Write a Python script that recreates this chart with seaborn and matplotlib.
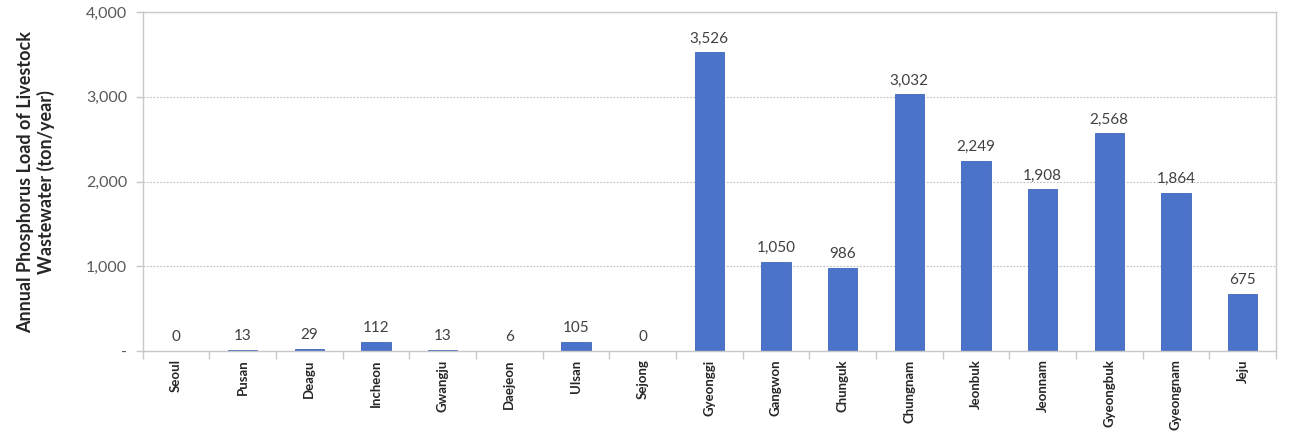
import matplotlib
matplotlib.use("Agg")
import matplotlib.pyplot as plt
import seaborn as sns
import pandas as pd
import numpy as np
from matplotlib.ticker import FuncFormatter, FixedLocator

regions = ["Seoul", "Pusan", "Deagu", "Incheon", "Gwangju", "Daejeon", "Ulsan", "Sejong",
           "Gyeonggi", "Gangwon", "Chunguk", "Chungnam", "Jeonbuk", "Jeonnam",
           "Gyeongbuk", "Gyeongnam", "Jeju"]
loads = [0, 13, 29, 112, 13, 6, 105, 0, 3526, 1050, 986, 3032, 2249, 1908, 2568, 1864, 675]
yticks = [0, 1000, 2000, 3000, 4000]

df = pd.DataFrame({"region": regions, "load": loads})

sns.set_style("white")
plt.rcParams["font.family"] = ["Lato", "DejaVu Sans"]

fig = plt.figure(figsize=(13.08, 4.34), dpi=100)
ax = fig.add_axes([0.109, 0.191, 0.8665, 0.781])

sns.barplot(data=df, x="region", y="load", color="#4a73c9", width=0.44,
            edgecolor="#3f66b8", linewidth=0.6, ax=ax, saturation=1)

ax.set_ylim(0, 4000)
ax.set_xlim(-0.5, len(regions) - 0.5)
ax.yaxis.set_major_locator(FixedLocator(yticks))
ax.yaxis.set_major_formatter(FuncFormatter(lambda v, p: "-" if v == 0 else f"{int(v):,}"))
ax.grid(axis="y", linestyle=(0, (1.5, 1.5)), color="#bdbdbd", linewidth=0.8)
ax.set_axisbelow(True)

for s in ["left", "right", "top", "bottom"]:
    ax.spines[s].set_color("#c8c8c8")
    ax.spines[s].set_linewidth(1.0)

ax.tick_params(axis="y", labelsize=11.5, labelcolor="#595959", length=5, color="#c8c8c8",
               left=True, width=1, pad=6)
ax.tick_params(axis="x", which="major", length=0, labelsize=9.5, labelcolor="#262626", pad=6)
ax.set_xticks(np.arange(-0.5, len(regions) + 0.5, 1), minor=True)
ax.tick_params(axis="x", which="minor", length=6, color="#c8c8c8", bottom=True, width=1)
plt.setp(ax.get_xticklabels(), rotation=90, fontweight="bold")

ax.set_xlabel("")
ax.set_ylabel("Annual Phosphorus Load of Livestock\nWastewater (ton/year)",
              fontsize=13, fontweight="bold", color="#262626", labelpad=22)

for i, v in enumerate(loads):
    ax.text(i, v + 80, f"{v:,}", ha="center", va="bottom", fontsize=11, color="#404040")

fig.savefig("out.png", dpi=100)
